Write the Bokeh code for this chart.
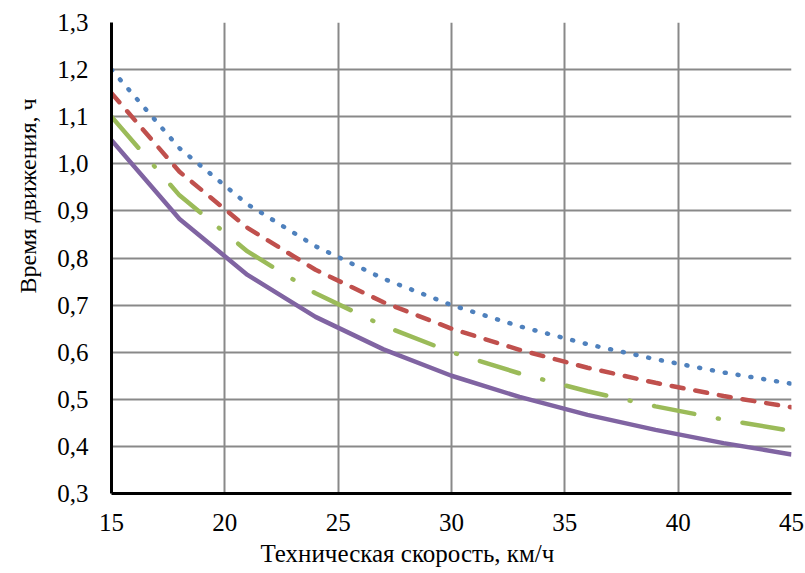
from bokeh.plotting import figure
from bokeh.models import FixedTicker, Title, Range1d
from bokeh.embed import file_html
from bokeh.resources import INLINE

speed = [15, 18, 21, 24, 27, 30, 33, 36, 39, 42, 45]
series_blue = [1.2, 1.033, 0.914, 0.825, 0.756, 0.7, 0.655, 0.617, 0.585, 0.557, 0.533]
series_red = [1.15, 0.983, 0.864, 0.775, 0.706, 0.65, 0.605, 0.567, 0.535, 0.507, 0.483]
series_green = [1.1, 0.933, 0.814, 0.725, 0.656, 0.6, 0.555, 0.517, 0.485, 0.457, 0.433]
series_purple = [1.05, 0.883, 0.764, 0.675, 0.606, 0.55, 0.505, 0.467, 0.435, 0.407, 0.383]

x_ticks = [15, 20, 25, 30, 35, 40, 45]
y_ticks = [0.3, 0.4, 0.5, 0.6, 0.7, 0.8, 0.9, 1.0, 1.1, 1.2, 1.3]
y_tick_labels = ["0,3", "0,4", "0,5", "0,6", "0,7", "0,8", "0,9", "1,0", "1,1", "1,2", "1,3"]
x_title = "Техническая скорость, км/ч"
y_title = "Время движения, ч"

FONT = "'Liberation Serif', 'Times New Roman', serif"
FS = "25px"

p = figure(width=805, height=573, output_backend="svg", toolbar_location=None,
           x_range=Range1d(15, 45), y_range=Range1d(0.3, 1.3))
p.min_border_left = 111
p.min_border_right = 14
p.min_border_top = 22
p.min_border_bottom = 80
p.outline_line_color = None
p.background_fill_color = "white"
p.border_fill_color = "white"

p.xaxis.ticker = FixedTicker(ticks=x_ticks)
p.yaxis.ticker = FixedTicker(ticks=y_ticks)
p.yaxis.major_label_overrides = {t: l for t, l in zip(y_ticks, y_tick_labels)}
p.xaxis.major_label_overrides = {t: str(t) for t in x_ticks}

for ax in (p.xaxis, p.yaxis):
    ax.axis_line_color = "black"
    ax.axis_line_width = 3
    ax.major_tick_line_color = None
    ax.minor_tick_line_color = None
    ax.major_tick_out = 0
    ax.major_tick_in = 0
    ax.minor_tick_out = 0
    ax.minor_tick_in = 0
    ax.major_label_text_font = FONT
    ax.major_label_text_font_size = FS
    ax.major_label_text_color = "black"
p.yaxis.major_label_standoff = 23
p.xaxis.major_label_standoff = 20

p.xgrid.ticker = FixedTicker(ticks=x_ticks)
p.ygrid.ticker = FixedTicker(ticks=y_ticks)
p.grid.grid_line_color = "#898989"
p.grid.grid_line_width = 2

lw = 4.5
p.line(speed, series_purple, line_color="#8064A2", line_width=lw, line_join="round")
p.line(speed, series_green, line_color="#9BBB59", line_width=lw, line_dash="41 24 1 24",
       line_cap="round", line_join="round")
p.line(speed, series_red, line_color="#C0504D", line_width=lw, line_dash="12 12",
       line_cap="round", line_join="round")
p.line(speed, series_blue, line_color="#4F81BD", line_width=lw, line_dash="1 12",
       line_cap="round", line_join="round")

p.add_layout(Title(text=x_title, align="left", offset=149, standoff=8, text_font=FONT,
                   text_font_size=FS, text_font_style="normal", text_color="black"),
             "below")
p.add_layout(Title(text=y_title, align="left", offset=200, standoff=26,
                   vertical_align="middle", text_font=FONT,
                   text_font_size="24px", text_font_style="normal", text_color="black"),
             "left")

open("out.html", "w").write(file_html(p, INLINE))
